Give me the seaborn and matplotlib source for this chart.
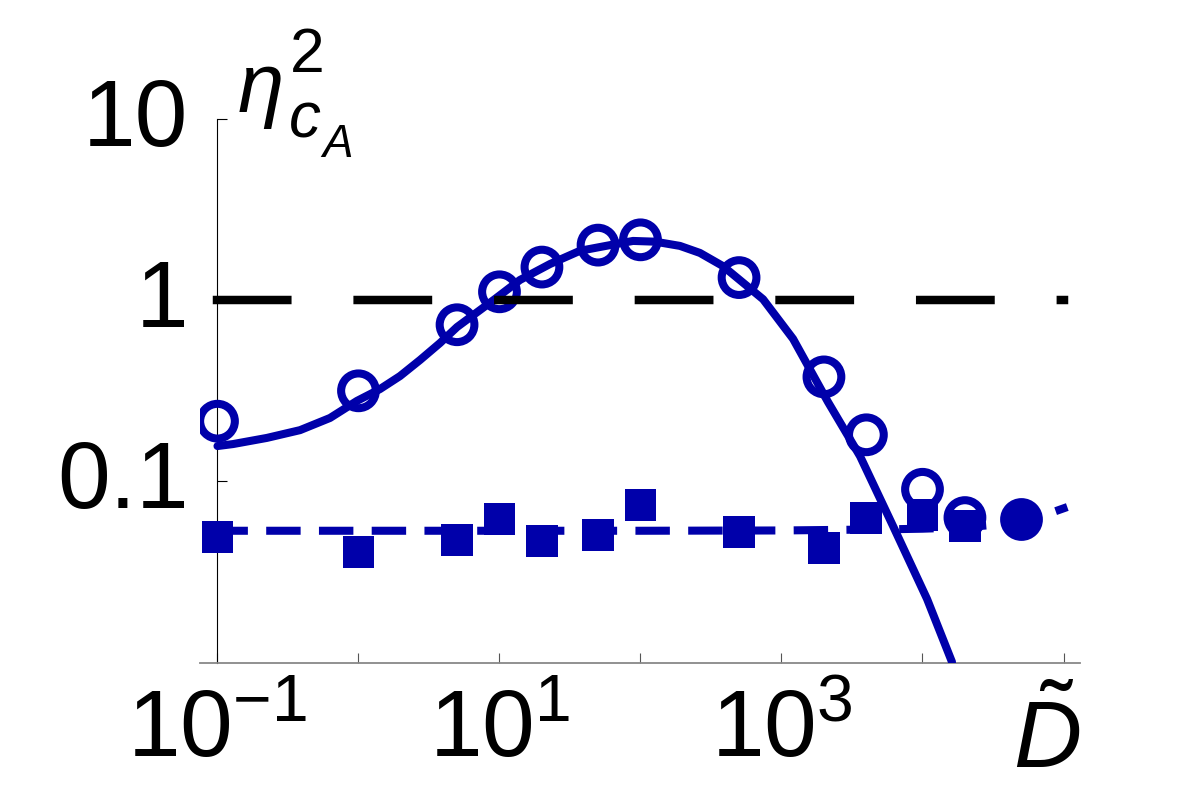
import numpy as np
import pandas as pd
import matplotlib
matplotlib.use("Agg")
import matplotlib.pyplot as plt
from matplotlib.transforms import ScaledTranslation
import seaborn as sns

# ---------------- data ----------------
D_circles = [0.1, 1, 5, 10, 20, 50, 100, 500, 2000, 4000, 1e4, 2e4]
eta_circles = [0.214, 0.315, 0.73, 1.11, 1.52, 2.01, 2.15, 1.33, 0.376, 0.18, 0.09, 0.0628]

D_squares = [0.1, 1, 5, 10, 20, 50, 100, 500, 2000, 4000, 1e4, 2e4]
eta_squares = [0.0492, 0.0407, 0.0472, 0.0617, 0.0464, 0.0505, 0.0736, 0.0523,
               0.0425, 0.0625, 0.0646, 0.0563]

D_filled = [5e4]
eta_filled = [0.062]

# solid fitted curve
D_fit = [0.1, 0.129, 0.224, 0.385, 0.628, 0.975, 1.42, 1.97, 2.73, 3.78, 5.0,
         9.29, 13.96, 22.8, 37.2, 60.8, 88.5, 127, 190.5, 264, 384, 740, 1208,
         2138, 3609, 6180, 10770, 16190]
eta_fit = [0.156, 0.160, 0.173, 0.191, 0.223, 0.277, 0.322, 0.380, 0.466, 0.578,
           0.709, 1.013, 1.29, 1.58, 1.87, 2.01, 2.12, 2.10, 1.99, 1.82, 1.54,
           1.01, 0.61, 0.273, 0.137, 0.0564, 0.0223, 0.0100]

# blue dashed curve (read points)
D_dash = [0.1, 1, 10, 100, 1000, 5000, 1e4, 2e4, 3e4, 5e4, 7e4, 1e5]
eta_dash = [0.0531, 0.0531, 0.0531, 0.0531, 0.0533, 0.054, 0.0545, 0.0555,
            0.057, 0.0605, 0.064, 0.0706]

# reference level
D_ref = [0.1, 1e5]
eta_ref = [1, 1]

xtick_vals = [1e-1, 1e0, 1e1, 1e2, 1e3, 1e4, 1e5]
xtick_labels = [r"$10^{-1}$", "", r"$10^{1}$", "", r"$10^{3}$", "", ""]
ytick_vals = [0.1, 1, 10]
ytick_labels = ["0.1", "1", "10"]

BLUE = "#0000AA"

# ---------------- style ----------------
sns.set_style("ticks")
plt.rcParams["font.family"] = ["Liberation Sans", "DejaVu Sans"]
plt.rcParams["mathtext.fontset"] = "custom"
plt.rcParams["mathtext.rm"] = "Liberation Sans"
plt.rcParams["mathtext.it"] = "Liberation Sans:italic"
plt.rcParams["mathtext.bf"] = "Liberation Sans:bold"
plt.rcParams["text.color"] = "black"

fig = plt.figure(figsize=(12, 8.04), dpi=100)
ax = fig.add_axes([200 / 1200, 140 / 804, 880 / 1200, 544 / 804])
ax.set_xscale("log")
ax.set_yscale("log")
ax.set_xlim(10 ** -1.124, 10 ** 5.117)
ax.set_ylim(10 ** -2.0055, 10)

df_dash = pd.DataFrame({"D": D_dash, "eta": eta_dash})
sns.lineplot(data=df_dash, x="D", y="eta", ax=ax, color=BLUE, lw=5.8,
             linestyle=(0, (3.274, 3.274)), dash_capstyle="projecting",
             sort=False, estimator=None, zorder=2)

df_c = pd.DataFrame({"D": D_circles, "eta": eta_circles})
sns.scatterplot(data=df_c, x="D", y="eta", ax=ax, marker="o", s=625,
                facecolor="none", edgecolor=BLUE, linewidth=5.8, zorder=3)

df_s = pd.DataFrame({"D": D_squares, "eta": eta_squares})
sns.scatterplot(data=df_s, x="D", y="eta", ax=ax, marker="s", s=529,
                color=BLUE, edgecolor="none", linewidth=0, zorder=4)

df_f = pd.DataFrame({"D": D_filled, "eta": eta_filled})
sns.scatterplot(data=df_f, x="D", y="eta", ax=ax, marker="o", s=625,
                color=BLUE, edgecolor=BLUE, linewidth=5.8, zorder=4)

df_fit = pd.DataFrame({"D": D_fit, "eta": eta_fit})
sns.lineplot(data=df_fit, x="D", y="eta", ax=ax, color=BLUE, lw=5.8,
             sort=False, estimator=None, zorder=5, solid_joinstyle="round")

df_ref = pd.DataFrame({"D": D_ref, "eta": eta_ref})
sns.lineplot(data=df_ref, x="D", y="eta", ax=ax, color="black", lw=6.1,
             linestyle=(0, (8.3, 8.3)), dash_capstyle="projecting",
             sort=False, estimator=None, zorder=6)

# ---------------- axes ----------------
for s in ["top", "right"]:
    ax.spines[s].set_visible(False)
ax.spines["left"].set_position(("data", 0.1))
ax.spines["left"].set_color("black")
ax.spines["left"].set_linewidth(0.8)
ax.spines["bottom"].set_color("#888888")
ax.spines["bottom"].set_linewidth(1.3)

ax.set_xticks(xtick_vals)
ax.set_xticklabels(xtick_labels)
ax.set_yticks(ytick_vals)
ax.set_yticklabels([])
ax.minorticks_off()
ax.tick_params(axis="x", direction="in", length=7.5, width=0.8, color="#555555",
               labelsize=68, pad=17, labelcolor="black")
ax.tick_params(axis="y", direction="in", length=7.5, width=0.8, color="black",
               labelleft=False)
ax.set_xlabel("")
ax.set_ylabel("")

# y tick labels: right edge ~29 px left of the spine, baseline ~26 px below the tick
lab_off = ScaledTranslation(-29 / 100, -26 / 100, fig.dpi_scale_trans)
for v, t in zip(ytick_vals, ytick_labels):
    ax.text(0.1, v, t, transform=ax.transData + lab_off, fontsize=68,
            ha="right", va="baseline", color="black", clip_on=False)

# axis label eta^2_{c_A} built from pieces
def fy(py):
    return (804 - py) / 804

fig.text(238 / 1200, fy(112), "\u03b7", fontsize=60, style="italic",
         ha="left", va="baseline", color="black")
fig.text(290 / 1200, fy(72), "2", fontsize=45,
         ha="left", va="baseline", color="black")
fig.text(289 / 1200, fy(138), "c", fontsize=46, style="italic",
         ha="left", va="baseline", color="black")
fig.text(322 / 1200, fy(157), "A", fontsize=33, style="italic",
         ha="left", va="baseline", color="black")

fig.text(1047 / 1200, fy(768), r"$\tilde{D}$", fontsize=68,
         ha="center", va="baseline", color="black")

fig.savefig("out.png", dpi=100)
